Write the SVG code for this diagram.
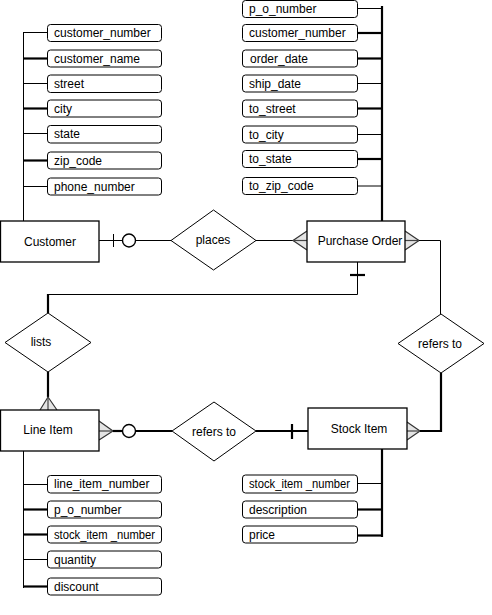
<svg xmlns="http://www.w3.org/2000/svg" width="492" height="615" viewBox="0 0 492 615">
<style>
text{font-family:"Liberation Sans",Arial,sans-serif;font-size:12px;fill:#000}
.ent{fill:#fff;stroke:#000;stroke-width:1.3}
.att{fill:#fff;stroke:#000;stroke-width:1}
.rel{fill:#fff;stroke:#000;stroke-width:1}
.c{text-anchor:middle}
.thin{stroke:#000;stroke-width:1;fill:none}
.thick{stroke:#000;stroke-width:2.2;fill:none}
.crow{stroke:#333;stroke-width:1.2;fill:#e4e4e4}
.mid{stroke:#444;stroke-width:1.2;fill:none}
.circ{fill:#fff;stroke:#000;stroke-width:1.4}
</style>
<rect width="492" height="615" fill="#fff"/>
<g id="connectors">
<!-- Customer attributes -->
<path class="thin" d="M23.5 32V221"/>
<path class="thin" d="M23 32.5H47"/>
<path class="thick" d="M23 58.5H47"/>
<path class="thin" d="M23 83.5H47"/>
<path class="thick" d="M23 108.5H47"/>
<path class="thin" d="M23 133.5H47"/>
<path class="thick" d="M23 160.5H47"/>
<path class="thin" d="M23 186.5H47"/>
<!-- PO attributes -->
<path class="thick" d="M382 6V221"/>
<path class="thin" d="M358 8.5H382"/>
<path class="thick" d="M358 33H382"/>
<path class="thick" d="M358 58.5H382"/>
<path class="thin" d="M358 83.5H382"/>
<path class="thick" d="M358 108.5H382"/>
<path class="thin" d="M358 134.5H382"/>
<path class="thick" d="M358 159H382"/>
<path class="thin" d="M358 186H382"/>
<!-- Customer - places - PO -->
<path class="thin" d="M99 240.5H122"/>
<path class="thin" d="M113.5 234V247"/>
<path class="thin" d="M136 240.5H171"/>
<circle class="circ" cx="129" cy="240.5" r="6.5"/>
<path class="thin" d="M256 240.5H293"/>
<path class="crow" d="M307 231L293 240.5L307 250"/>
<path class="mid" d="M293 240.5H307"/>
<!-- PO right to refers to -->
<path class="crow" d="M405 231L419 240.5L405 250"/>
<path class="mid" d="M405 240.5H419"/>
<path class="thin" d="M419 240.5H440.5V314"/>
<!-- PO bottom to lists -->
<path class="thin" d="M357.5 262V294.5H48"/>
<path class="thick" d="M350 275H365"/>
<path class="thick" d="M48 294V313"/>
<path class="thick" d="M48 372V397"/>
<path class="crow" d="M40 410L48 397L57 410"/>
<path class="mid" d="M48 397V410"/>
<!-- Line Item - refers to - Stock Item -->
<path class="crow" d="M99 421L113 431L99 440"/>
<path class="mid" d="M99 431H113"/>
<path class="thick" d="M113 431H122"/>
<path class="thick" d="M136 431H172"/>
<circle class="circ" cx="129" cy="431" r="6.5"/>
<path class="thick" d="M256 431H308"/>
<path class="thick" d="M292 424V439"/>
<path class="crow" d="M407 422L420 431L407 440"/>
<path class="mid" d="M407 431H420"/>
<path class="thick" d="M420 431H441V373"/>
<!-- Stock item attributes -->
<path class="thick" d="M382 449V537"/>
<path class="thin" d="M358 483.5H382"/>
<path class="thick" d="M358 509.5H382"/>
<path class="thick" d="M358 535.5H382"/>
<!-- Line item attributes -->
<path class="thin" d="M23.5 451V588"/>
<path class="thin" d="M23 484.5H47"/>
<path class="thick" d="M23 509.5H47"/>
<path class="thick" d="M23 534.5H47"/>
<path class="thin" d="M23 559.5H47"/>
<path class="thick" d="M23 586.5H47"/>
</g>
<g id="customer"><rect class="ent" x="0.5" y="221" width="98.5" height="41"/><text class="c" x="50" y="246">Customer</text></g>
<g id="purchase_order"><rect class="ent" x="307" y="221" width="98" height="41"/><text class="c" x="360" y="245">Purchase Order</text></g>
<g id="line_item"><rect class="ent" x="0.5" y="410" width="98.5" height="41"/><text class="c" x="48" y="434">Line Item</text></g>
<g id="stock_item"><rect class="ent" x="308" y="408" width="99" height="41"/><text class="c" x="359" y="433">Stock Item</text></g>
<g id="places"><path class="rel" d="M171 240.5L213.5 210L256 240.5L213.5 270Z"/><text class="c" x="213" y="244">places</text></g>
<g id="lists"><path class="rel" d="M5 342.5L48 313L91 342.5L48 372Z"/><text class="c" x="41" y="346">lists</text></g>
<g id="refers_to_1"><path class="rel" d="M172 431L214 402L256 431L214 461Z"/><text class="c" x="214" y="436">refers to</text></g>
<g id="refers_to_2"><path class="rel" d="M398 343.5L441 314L484 343.5L441 373Z"/><text class="c" x="440" y="348">refers to</text></g>
<g id="customer_attrs">
<g id="a_customer_number"><rect class="att" x="47.5" y="24.5" width="114" height="17" rx="3"/><text x="54" y="37">customer_number</text></g>
<g id="a_customer_name"><rect class="att" x="47.5" y="50" width="114" height="17" rx="3"/><text x="54" y="62.5">customer_name</text></g>
<g id="a_street"><rect class="att" x="47.5" y="75" width="114" height="17.5" rx="3"/><text x="54" y="88">street</text></g>
<g id="a_city"><rect class="att" x="47.5" y="100" width="114" height="17" rx="3"/><text x="54" y="113">city</text></g>
<g id="a_state"><rect class="att" x="47.5" y="125.5" width="114" height="17.5" rx="3"/><text x="54" y="138">state</text></g>
<g id="a_zip_code"><rect class="att" x="47.5" y="152" width="114" height="17" rx="3"/><text x="54" y="164.5">zip_code</text></g>
<g id="a_phone_number"><rect class="att" x="47.5" y="178" width="114" height="17" rx="3"/><text x="54" y="190.5">phone_number</text></g>
</g>
<g id="po_attrs">
<g id="b_p_o_number"><rect class="att" x="242.5" y="0.5" width="115" height="17" rx="3"/><text x="249" y="13">p_o_number</text></g>
<g id="b_customer_number"><rect class="att" x="242.5" y="24.5" width="115" height="17" rx="3"/><text x="249" y="37">customer_number</text></g>
<g id="b_order_date"><rect class="att" x="242.5" y="50" width="115" height="17" rx="3"/><text x="250" y="62.5">order_date</text></g>
<g id="b_ship_date"><rect class="att" x="242.5" y="75" width="115" height="17" rx="3"/><text x="249" y="88">ship_date</text></g>
<g id="b_to_street"><rect class="att" x="242.5" y="100" width="115" height="17" rx="3"/><text x="249" y="113">to_street</text></g>
<g id="b_to_city"><rect class="att" x="242.5" y="126" width="115" height="17" rx="3"/><text x="249" y="138.5">to_city</text></g>
<g id="b_to_state"><rect class="att" x="242.5" y="150.5" width="115" height="17" rx="3"/><text x="249" y="163">to_state</text></g>
<g id="b_to_zip_code"><rect class="att" x="242.5" y="177.5" width="115" height="17" rx="3"/><text x="249" y="190">to_zip_code</text></g>
</g>
<g id="stock_attrs">
<g id="s_stock_item_number"><rect class="att" x="242.5" y="475" width="115" height="18" rx="3"/><text x="249" y="488" textLength="101" lengthAdjust="spacingAndGlyphs">stock_item _number</text></g>
<g id="s_description"><rect class="att" x="242.5" y="501" width="115" height="17" rx="3"/><text x="249" y="513.5">description</text></g>
<g id="s_price"><rect class="att" x="242.5" y="526" width="115" height="17" rx="3"/><text x="249" y="538.5">price</text></g>
</g>
<g id="line_attrs">
<g id="l_line_item_number"><rect class="att" x="47.5" y="475.5" width="114" height="17.5" rx="3"/><text x="54" y="488">line_item_number</text></g>
<g id="l_p_o_number"><rect class="att" x="47.5" y="501" width="114" height="17" rx="3"/><text x="54" y="513.5">p_o_number</text></g>
<g id="l_stock_item_number"><rect class="att" x="47.5" y="526" width="114" height="17" rx="3"/><text x="54" y="538.5" textLength="101" lengthAdjust="spacingAndGlyphs">stock_item _number</text></g>
<g id="l_quantity"><rect class="att" x="47.5" y="551" width="114" height="17" rx="3"/><text x="54" y="563.5">quantity</text></g>
<g id="l_discount"><rect class="att" x="47.5" y="578" width="114" height="17" rx="3"/><text x="54" y="590.5">discount</text></g>
</g>
</svg>
